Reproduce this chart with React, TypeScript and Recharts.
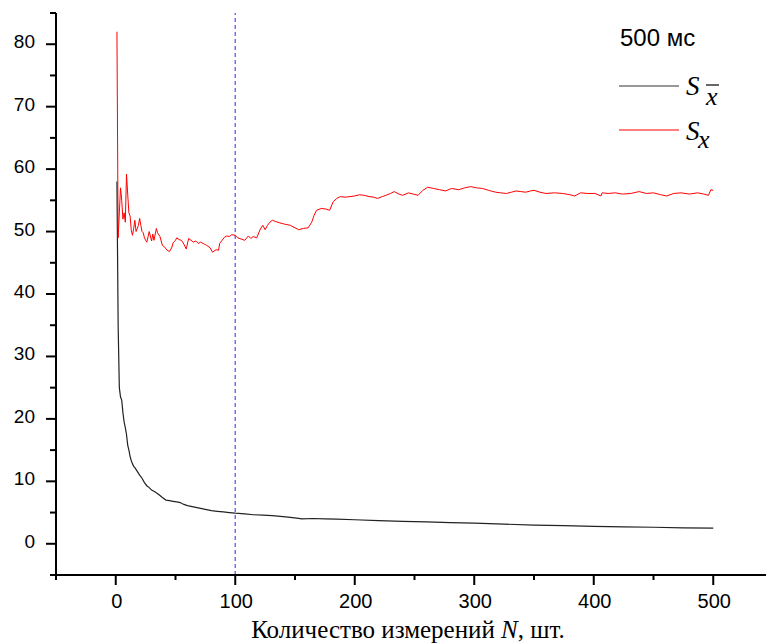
import React from 'react';
import { LineChart, Line, XAxis, YAxis, ReferenceLine, Legend, Label } from 'recharts';

const meanN = [1, 2, 3, 4, 5, 6, 7, 8, 9, 10, 11, 12, 13, 14, 15, 16, 18, 20, 22, 24, 26, 28, 30, 33, 36, 39, 42, 45, 48, 51, 54, 57, 60, 65, 70, 75, 80, 85, 90, 95, 100, 108, 115, 123, 131, 140, 148, 156, 165, 175, 185, 200, 220, 240, 260, 280, 300, 325, 350, 375, 400, 425, 450, 475, 500];
const meanS = [58, 35, 25, 23.5, 23, 21, 19.5, 18.6, 17.5, 15.8, 15, 14, 13.3, 12.8, 12.4, 12.2, 11.6, 11, 10.5, 9.8, 9.3, 9, 8.6, 8.3, 7.9, 7.4, 7, 6.9, 6.8, 6.7, 6.6, 6.3, 6.1, 5.9, 5.7, 5.5, 5.3, 5.2, 5.1, 5, 4.9, 4.8, 4.65, 4.6, 4.5, 4.35, 4.2, 4.0, 4.05, 4.0, 3.95, 3.85, 3.7, 3.6, 3.5, 3.4, 3.3, 3.15, 3.0, 2.9, 2.8, 2.7, 2.65, 2.55, 2.5];

const sampleN = [1, 2, 3, 4, 5, 6, 7, 8, 9, 10, 11, 12, 13, 14, 15, 16, 17, 18, 19, 20, 21, 22, 23, 24, 25, 26, 28, 30, 31, 32, 34, 35, 37, 39, 41, 43, 45, 47, 48, 50, 51, 53, 55, 57, 59, 61, 63, 65, 67, 69, 71, 74, 76, 79, 81, 84, 86, 87, 89, 91, 93, 95, 97, 100, 102, 105, 108, 111, 113, 115, 118, 121, 123, 125, 127, 129, 131, 134, 137, 141, 146, 150, 153, 157, 161, 164, 166, 168, 172, 176, 179, 182, 185, 188, 192, 196, 200, 204, 208, 212, 216, 219, 223, 226, 230, 233, 237, 240, 245, 249, 253, 257, 261, 266, 271, 276, 281, 287, 292, 297, 302, 307, 312, 318, 322, 327, 331, 335, 339, 343, 347, 350, 355, 360, 367, 374, 380, 384, 389, 395, 401, 406, 407, 412, 418, 424, 431, 438, 444, 450, 456, 461, 467, 473, 480, 487, 492, 496, 498, 500];
const sampleS = [82, 49, 53, 57, 55, 52, 53, 51.5, 59.2, 56, 53, 52.5, 50.2, 49.4, 50.5, 51.8, 50, 50.5, 51, 52.1, 51, 50, 49.8, 49, 48.6, 48.3, 50, 48.5, 49.6, 48.6, 50.5, 49.8, 49.2, 47.8, 47.5, 47, 46.8, 47.5, 48.2, 48.6, 49, 48.7, 48.6, 48, 47.2, 48.9, 48.6, 48.3, 48.5, 48.1, 48.3, 48, 47.8, 47.4, 46.7, 47.1, 47, 48.1, 48.6, 49.1, 49.3, 49.2, 49.5, 49.4, 49, 48.8, 48.6, 49.3, 48.9, 49.2, 49, 50.4, 51, 50.3, 51, 51.5, 51.8, 51.6, 51.4, 51.2, 51, 50.6, 50.3, 50.5, 50.6, 51.5, 52.6, 53.4, 53.7, 53.6, 53.4, 54.8, 55.3, 55.6, 55.5, 55.6, 55.7, 55.9, 55.8, 55.6, 55.5, 55.3, 55.6, 55.8, 56.1, 56.4, 56, 55.8, 56.2, 56, 55.8, 56.6, 57.1, 56.9, 56.7, 56.5, 56.9, 56.7, 57, 57.2, 57, 56.9, 56.6, 56.3, 56.2, 56.1, 56.3, 56.5, 56.4, 56.3, 56.5, 56.6, 56.3, 56.1, 56.2, 56.1, 55.9, 55.7, 56.2, 56.1, 56.1, 55.7, 56.2, 56.1, 56.2, 56, 56.1, 56.4, 56.1, 56.2, 55.9, 55.7, 56.1, 56.2, 56, 56.2, 56, 55.8, 56.7, 56.6];

const xTicks = [-50, 0, 50, 100, 150, 200, 250, 300, 350, 400, 450, 500, 550];
const yTicks = [-5, 0, 5, 10, 15, 20, 25, 30, 35, 40, 45, 50, 55, 60, 65, 70, 75, 80, 85];
const markerN = 100;

const meanRows = meanN.map((n, i) => ({ n, s: meanS[i] }));
const sampleRows = sampleN.map((n, i) => ({ n, s: sampleS[i] }));

const SANS = '"Liberation Sans", Arial, sans-serif';
const SERIF = '"Liberation Serif", "Times New Roman", serif';

function XTick(props: any) {
  const { x, y, payload } = props;
  const major = payload.value % 100 === 0;
  return (
    <g>
      <line x1={x} y1={y} x2={x} y2={y + (major ? 10 : 5)} stroke="#000" strokeWidth={2} />
      {major && (
        <text x={x + 1} y={y + 33} textAnchor="middle" fontSize={20} fontFamily={SANS} fill="#000">
          {payload.value}
        </text>
      )}
    </g>
  );
}

function YTick(props: any) {
  const { x, y, payload } = props;
  const major = payload.value % 10 === 0;
  return (
    <g>
      <line x1={x - (major ? 10 : 6)} y1={y} x2={x} y2={y} stroke="#000" strokeWidth={2} />
      {major && (
        <text x={x - 21} y={y + 4} textAnchor="end" fontSize={19} fontFamily={SANS} fill="#000">
          {payload.value}
        </text>
      )}
    </g>
  );
}

function XTitle(props: any) {
  const { viewBox } = props;
  return (
    <text x={viewBox.x + 352} y={638} textAnchor="middle" fontSize={25} fontFamily={SERIF} fill="#000">
      Количество измерений <tspan fontStyle="italic">N</tspan>, шт.
    </text>
  );
}

// legend drawn in page coords (legend box placed at 600,0)
function LegendBox() {
  return (
    <svg width={166} height={160} style={{ overflow: 'visible', display: 'block' }}>
      <text x={20} y={46} fontSize={24} fontFamily={SANS} fill="#000">500 мс</text>
      <line x1={19} y1={86} x2={79} y2={86} stroke="#333" strokeWidth={1.2} />
      <text x={86} y={95} fontSize={27} fontFamily={SERIF} fontStyle="italic" fill="#000">S</text>
      <text x={106} y={105} fontSize={26} fontFamily={SERIF} fontStyle="italic" fill="#000">x</text>
      <line x1={106} y1={85} x2={119} y2={85} stroke="#000" strokeWidth={1.2} />
      <line x1={19} y1={130} x2={79} y2={130} stroke="#ff0000" strokeWidth={1.2} />
      <text x={86} y={140} fontSize={27} fontFamily={SERIF} fontStyle="italic" fill="#000">S</text>
      <text x={98} y={148} fontSize={26} fontFamily={SERIF} fontStyle="italic" fill="#000">x</text>
    </svg>
  );
}

export default function App() {
  return (
    <div style={{ position: 'fixed', left: 0, top: 0, width: 766, height: 644, overflow: 'hidden', background: '#fff' }}>
      <LineChart width={773} height={644} margin={{ top: 13, right: 0, bottom: 0, left: 0 }}>
        <XAxis
          dataKey="n"
          type="number"
          domain={[-50, 550]}
          ticks={xTicks}
          interval={0}
          allowDataOverflow
          height={69}
          tickLine={false}
          tickSize={0}
          tickMargin={0}
          axisLine={{ stroke: '#000', strokeWidth: 2 }}
          tick={<XTick />}
        >
          <Label content={<XTitle />} />
        </XAxis>
        <YAxis
          type="number"
          domain={[-5, 85]}
          ticks={yTicks}
          interval={0}
          allowDataOverflow
          width={56}
          tickLine={false}
          tickSize={0}
          tickMargin={0}
          axisLine={{ stroke: '#000', strokeWidth: 2 }}
          tick={<YTick />}
        />
        <ReferenceLine x={markerN} stroke="#7070ff" strokeWidth={1.5} strokeDasharray="4 3" />
        <Line
          data={meanRows}
          dataKey="s"
          name="mean"
          type="linear"
          stroke="#222"
          strokeWidth={1.2}
          dot={false}
          isAnimationActive={false}
        />
        <Line
          data={sampleRows}
          dataKey="s"
          name="sample"
          type="linear"
          stroke="#ff0000"
          strokeWidth={1}
          dot={false}
          isAnimationActive={false}
        />
        <Legend
          layout="horizontal"
          align="center"
          verticalAlign="middle"
          content={<LegendBox />}
          wrapperStyle={{ top: 0, left: 600, width: 166, height: 160 }}
        />
      </LineChart>
    </div>
  );
}
